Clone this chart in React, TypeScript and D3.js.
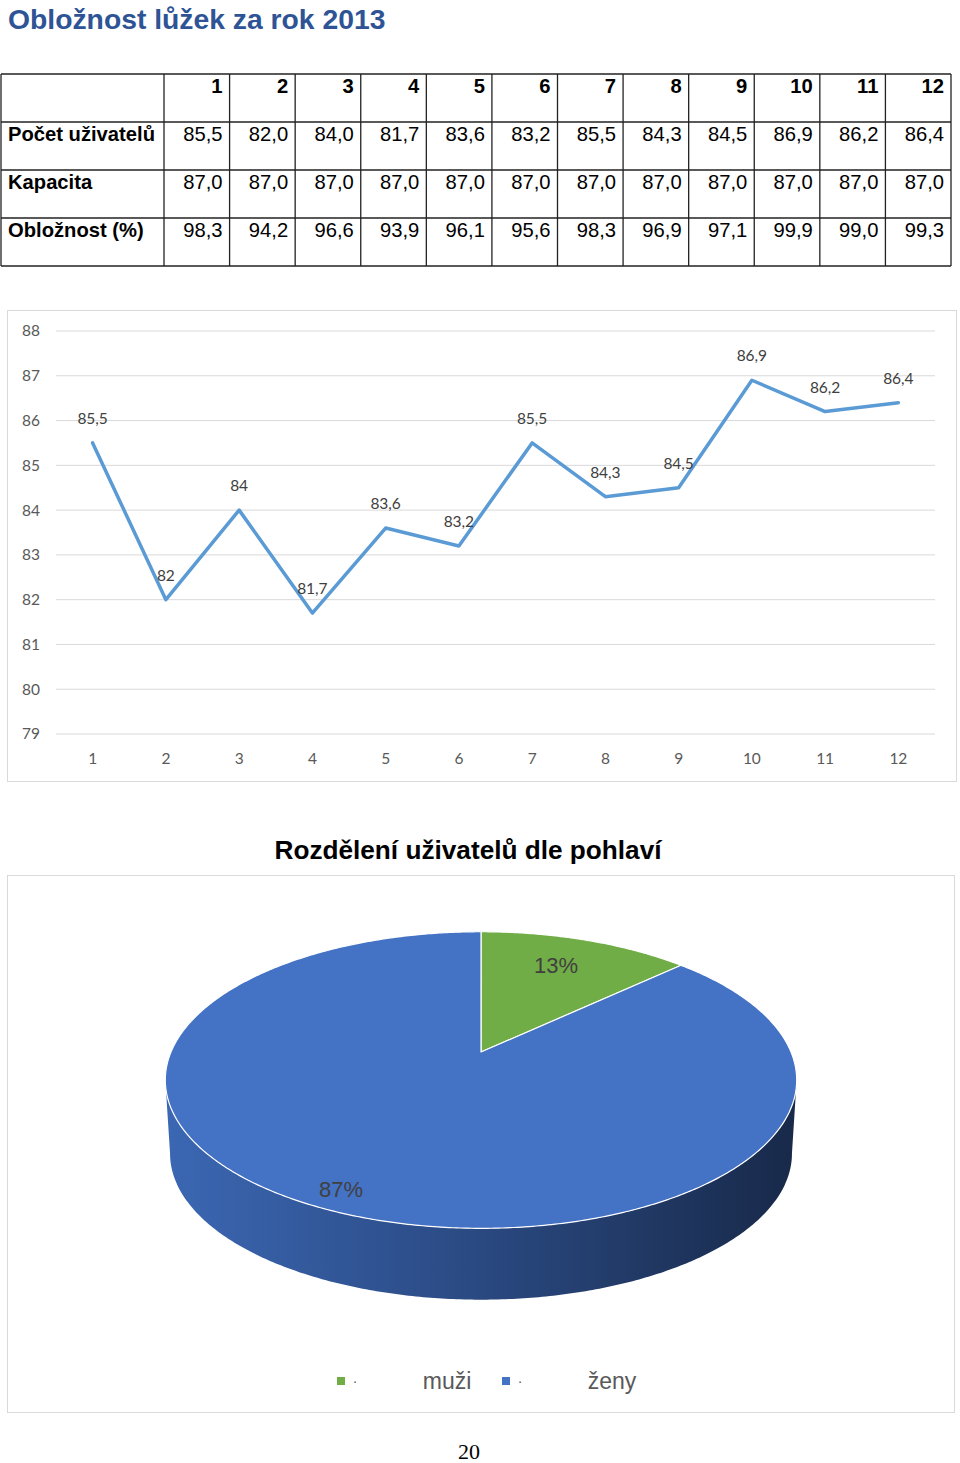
import React from "react";
import * as d3 from "d3";

const months = ["1", "2", "3", "4", "5", "6", "7", "8", "9", "10", "11", "12"];
const rowLabels = ["Počet uživatelů", "Kapacita", "Obložnost (%)"];
const users = [85.5, 82.0, 84.0, 81.7, 83.6, 83.2, 85.5, 84.3, 84.5, 86.9, 86.2, 86.4];
const capacity = [87.0, 87.0, 87.0, 87.0, 87.0, 87.0, 87.0, 87.0, 87.0, 87.0, 87.0, 87.0];
const occupancy = [98.3, 94.2, 96.6, 93.9, 96.1, 95.6, 98.3, 96.9, 97.1, 99.9, 99.0, 99.3];
const yTicks = [79, 80, 81, 82, 83, 84, 85, 86, 87, 88];
const genderLabels = ["muži", "ženy"];
const genderShares = [13, 87];

const W = 960;
const H = 1463;
const ARIAL = "'Liberation Sans', Arial, sans-serif";
const CAL = "Lato, 'Open Sans', sans-serif";

const fmt1 = (v: number) => v.toFixed(1).replace(".", ",");
const fmtG = (v: number) => String(v).replace(".", ",");

function Table() {
  const x = d3.scaleBand<string>().domain(months).range([164, 951]).paddingInner(0);
  const rows = [null, users, capacity, occupancy];
  const y = d3.scaleBand<number>().domain([0, 1, 2, 3]).range([74, 266]);
  const lineC = "#222";
  return (
    <g fontFamily={ARIAL} fontSize={20.2} fill="#000">
      {rows.map((r, i) => {
        const top = y(i)!;
        return (
          <g key={i}>
            {i > 0 && (
              <text x={8} y={top + 18.5} fontWeight="bold">
                {rowLabels[i - 1]}
              </text>
            )}
            {months.map((m, j) => (
              <text
                key={m}
                x={x(m)! + x.bandwidth() - 7}
                y={top + 18.5}
                textAnchor="end"
                fontWeight={i === 0 ? "bold" : "normal"}
              >
                {i === 0 ? m : fmt1((r as number[])[j])}
              </text>
            ))}
          </g>
        );
      })}
      {[0, 1, 2, 3].map((i) => (
        <line key={"h" + i} x1={1} x2={951} y1={y(i)!} y2={y(i)!} stroke={lineC} strokeWidth={1.3} />
      ))}
      <line x1={1} x2={951} y1={266} y2={266} stroke={lineC} strokeWidth={1.3} />
      <line x1={1} x2={1} y1={74} y2={266} stroke={lineC} strokeWidth={1.3} />
      {months.map((m) => (
        <line key={"v" + m} x1={x(m)!} x2={x(m)!} y1={74} y2={266} stroke={lineC} strokeWidth={1.3} />
      ))}
      <line x1={951} x2={951} y1={74} y2={266} stroke={lineC} strokeWidth={1.3} />
    </g>
  );
}

function LineChart() {
  const x = d3.scaleBand<string>().domain(months).range([56, 935]);
  const y = d3.scaleLinear().domain([79, 88]).range([734, 331]);
  const cx = (m: string) => x(m)! + x.bandwidth() / 2;
  const line = d3
    .line<number>()
    .x((_, i) => cx(months[i]))
    .y((d) => y(d));
  return (
    <g fontFamily={CAL}>
      <rect x={7.5} y={310.5} width={949} height={471} fill="#fff" stroke="#d9d9d9" strokeWidth={1} />
      {yTicks.map((t) => (
        <g key={t}>
          <line x1={56} x2={935} y1={y(t)} y2={y(t)} stroke="#d9d9d9" strokeWidth={1} />
          <text x={40} y={y(t)} dy="0.35em" textAnchor="end" fontSize={15.5} fill="#595959">
            {t}
          </text>
        </g>
      ))}
      {months.map((m) => (
        <text key={m} x={cx(m)} y={764} textAnchor="middle" fontSize={15.5} fill="#595959">
          {m}
        </text>
      ))}
      <path d={line(users)!} fill="none" stroke="#5b9bd5" strokeWidth={3.5} strokeLinejoin="round" strokeLinecap="round" />
      {users.map((v, i) => (
        <text key={i} x={cx(months[i])} y={y(v) - 19} textAnchor="middle" fontSize={15.5} fill="#404040">
          {fmtG(v)}
        </text>
      ))}
    </g>
  );
}

function PieChart() {
  const PCX = 481;
  const PCY = 1052;
  const K = 310;
  const K2 = 143;
  const P = 0.189;
  const DEPTH = 74;
  const proj = (t: number, r: number, dy = 0, ks = 1): [number, number] => {
    const u = r * Math.sin(t);
    const v = r * Math.cos(t);
    const w = 1 + P * v;
    return [PCX + (K * ks * u) / w, PCY - (K2 * ks * v) / w + dy];
  };
  const pie = d3.pie<number>().sort(null).value((d) => d);
  const arcs = pie(genderShares);
  const topColors = ["#70ad47", "#4472c4"];
  const sideGrad = ["url(#gGreen)", "url(#gBlue)"];
  const labelR = [0.74, 0.9];
  const sample = (a0: number, a1: number, dy: number, ks: number) => {
    const n = Math.max(2, Math.ceil(Math.abs(a1 - a0) / 0.01));
    return d3.range(n + 1).map((i) => proj(a0 + ((a1 - a0) * i) / n, 1, dy, ks));
  };
  const visA = Math.PI / 2 + Math.asin(P);
  const visB = (3 * Math.PI) / 2 - Math.asin(P);
  const toPath = (pts: [number, number][]) => "M" + pts.map((p) => p[0].toFixed(2) + "," + p[1].toFixed(2)).join("L") + "Z";

  const sides = arcs.map((a, i) => {
    const s = Math.max(a.startAngle, visA);
    const e = Math.min(a.endAngle, visB);
    if (e <= s) return null;
    const topPts = sample(s, e, 0, 1);
    const botPts = sample(e, s, DEPTH, 0.985);
    return <path key={"s" + i} d={toPath([...topPts, ...botPts])} fill={sideGrad[i]} />;
  });
  const tops = arcs.map((a, i) => {
    const pts: [number, number][] = [[PCX, PCY], ...sample(a.startAngle, a.endAngle, 0, 1)];
    return <path key={"t" + i} d={toPath(pts)} fill={topColors[i]} stroke="#fff" strokeWidth={1.2} strokeLinejoin="round" />;
  });
  const labels = arcs.map((a, i) => {
    const mid = (a.startAngle + a.endAngle) / 2 + (i === 1 ? 0.03 : -0.03);
    const [lx, ly] = proj(mid, labelR[i]);
    const pct = Math.round(((a.endAngle - a.startAngle) / (2 * Math.PI)) * 100);
    return (
      <text key={"l" + i} x={lx} y={ly} dy="0.35em" textAnchor="middle" fontFamily={ARIAL} fontSize={22} fill="#404040">
        {pct}%
      </text>
    );
  });
  const legendX = [337, 502];
  return (
    <g>
      <defs>
        <linearGradient id="gBlue" gradientUnits="userSpaceOnUse" x1={165} x2={797} y1={0} y2={0}>
          <stop offset="0" stopColor="#3b67b3" />
          <stop offset="0.5" stopColor="#2a4981" />
          <stop offset="1" stopColor="#182949" />
        </linearGradient>
        <linearGradient id="gGreen" gradientUnits="userSpaceOnUse" x1={165} x2={797} y1={0} y2={0}>
          <stop offset="0" stopColor="#5e9a3a" />
          <stop offset="1" stopColor="#2f4e1d" />
        </linearGradient>
      </defs>
      <text x={468} y={859} textAnchor="middle" fontFamily={ARIAL} fontWeight="bold" fontSize={26.2} fill="#000">
        Rozdělení uživatelů dle pohlaví
      </text>
      <rect x={7.5} y={875.5} width={947} height={537} fill="#fff" stroke="#d9d9d9" strokeWidth={1} />
      {sides}
      {tops}
      {labels}
      {genderLabels.map((g, i) => (
        <g key={g}>
          <rect x={legendX[i]} y={1377} width={8} height={8} fill={topColors[i]} />
          <text x={legendX[i] + 18} y={1381} dy="0.35em" textAnchor="middle" fontFamily={ARIAL} fontSize={14} fill="#595959">
            ·
          </text>
          <text x={legendX[i] + 110} y={1381} dy="0.35em" textAnchor="middle" fontFamily={ARIAL} fontSize={23} fill="#595959">
            {g}
          </text>
        </g>
      ))}
    </g>
  );
}

export default function App() {
  return (
    <div style={{ position: "absolute", left: 0, top: 0, width: W, height: H, background: "#fff" }}>
      <svg width={W} height={H} viewBox={`0 0 ${W} ${H}`} style={{ display: "block" }}>
        <rect width={W} height={H} fill="#fff" />
        <text x={8} y={29} fontFamily={ARIAL} fontWeight="bold" fontSize={28.3} fill="#2e5496">
          Obložnost lůžek za rok 2013
        </text>
        <Table />
        <LineChart />
        <PieChart />
        <text x={469} y={1459} textAnchor="middle" fontFamily="'Liberation Serif', 'Times New Roman', serif" fontSize={22} fill="#000">
          20
        </text>
      </svg>
    </div>
  );
}
